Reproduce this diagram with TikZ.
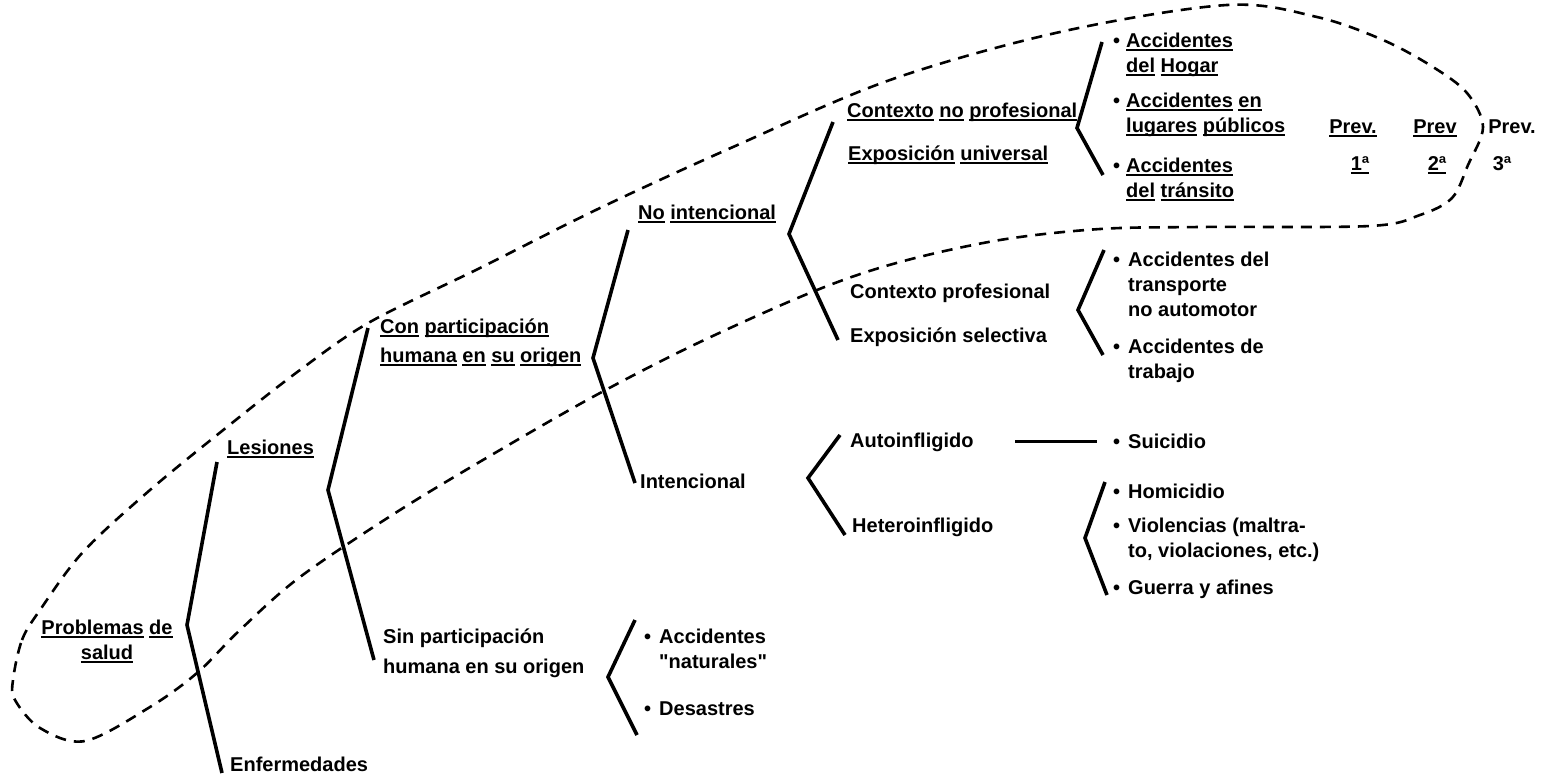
\documentclass[tikz,border=0pt]{standalone}
\usepackage{fontspec}
\setmainfont{Liberation Sans}
\newsavebox\ulbox
\newcommand\myul[1]{\sbox\ulbox{#1}\rlap{\rule[-3.5pt]{\wd\ulbox}{1.8pt}}\usebox\ulbox}
\tikzset{
  txt/.style={font=\fontsize{20}{25}\selectfont\bfseries, inner sep=0pt, anchor=west, align=left},
  one/.style={txt, text height=14pt, text depth=4pt},
  brace/.style={line width=3.6pt, line join=miter},
  loop/.style={line width=2.6pt, dash pattern=on 11pt off 8pt}
}
\begin{document}
\begin{tikzpicture}[x=1pt,y=-1pt]
\useasboundingbox (0,0) rectangle (1547,782);

% ---------- text nodes ----------
\node[txt, align=center, anchor=center] (prob) at (107,641) {\myul{Problemas} \myul{de}\\\myul{salud}};
\node[one] (les) at (227,449) {\myul{Lesiones}};
\node[one] (enf) at (230,766) {Enfermedades};
\node[txt] (con) at (380,343) {\myul{Con} \myul{participación}\\[4pt]\myul{humana} \myul{en} \myul{su} \myul{origen}};
\node[txt] (sin) at (383,653) {Sin participación\\[5pt]humana en su origen};
\node[one] (noint) at (638,214) {\myul{No} \myul{intencional}};
\node[one] (intenc) at (640,483) {Intencional};
\node[one] (cnp) at (847,112) {\myul{Contexto} \myul{no} \myul{profesional}};
\node[one] (eu) at (848,155) {\myul{Exposición} \myul{universal}};
\node[one] (cp) at (850,293) {Contexto profesional};
\node[one] (es) at (850,337) {Exposición selectiva};
\node[one] (auto) at (850,442) {Autoinfligido};
\node[one] (hetero) at (852,527) {Heteroinfligido};

% bullet lists
\node[txt] (hogar) at (1113,55) {\begin{tabular}{@{}l@{\hspace{6pt}}l@{}}•&\myul{Accidentes}\\&\myul{del} \myul{Hogar}\end{tabular}};
\node[txt] (lugares) at (1113,115) {\begin{tabular}{@{}l@{\hspace{6pt}}l@{}}•&\myul{Accidentes} \myul{en}\\&\myul{lugares} \myul{públicos}\end{tabular}};
\node[txt] (transito) at (1113,180) {\begin{tabular}{@{}l@{\hspace{6pt}}l@{}}•&\myul{Accidentes}\\&\myul{del} \myul{tránsito}\end{tabular}};
\node[txt] (transp) at (1113,286) {\begin{tabular}{@{}l@{\hspace{8pt}}l@{}}•&Accidentes del\\&transporte\\&no automotor\end{tabular}};
\node[txt] (trabajo) at (1113,361) {\begin{tabular}{@{}l@{\hspace{8pt}}l@{}}•&Accidentes de\\&trabajo\end{tabular}};
\node[one] (suic) at (1113,443) {•\hspace{8pt}Suicidio};
\node[one] (homic) at (1113,493) {•\hspace{8pt}Homicidio};
\node[txt] (viol) at (1113,540) {\begin{tabular}{@{}l@{\hspace{8pt}}l@{}}•&Violencias (maltra-\\&to, violaciones, etc.)\end{tabular}};
\node[one] (guerra) at (1113,589) {•\hspace{8pt}Guerra y afines};
\node[txt] (natur) at (644,651) {\begin{tabular}{@{}l@{\hspace{8pt}}l@{}}•&Accidentes\\&\textquotedbl naturales\textquotedbl\end{tabular}};
\node[one] (desas) at (644,710) {•\hspace{8pt}Desastres};

% prevention labels
\node[one, anchor=center] (p1) at (1353,128) {\myul{Prev.}};
\node[one, anchor=center] (n1) at (1360,165) {\myul{1ª}};
\node[one, anchor=center] (p2) at (1435,128) {\myul{Prev}};
\node[one, anchor=center] (n2) at (1437,165) {\myul{2ª}};
\node[one, anchor=center] (p3) at (1512,128) {Prev.};
\node[one, anchor=center] (n3) at (1502,165) {3ª};

% ---------- bracket coordinates ----------
\coordinate (b1t) at (217,462); \coordinate (b1a) at (187,625); \coordinate (b1b) at (222,773);
\coordinate (b2t) at (368,328); \coordinate (b2a) at (328,490); \coordinate (b2b) at (374,660);
\coordinate (b3t) at (628,230); \coordinate (b3a) at (593,358); \coordinate (b3b) at (635,483);
\coordinate (b4t) at (833,122); \coordinate (b4a) at (789,234); \coordinate (b4b) at (838,340);
\coordinate (b5t) at (1102,42); \coordinate (b5a) at (1077,128); \coordinate (b5b) at (1103,175);
\coordinate (b6t) at (1104,250); \coordinate (b6a) at (1078,310); \coordinate (b6b) at (1103,355);
\coordinate (b7t) at (840,435); \coordinate (b7a) at (808,478); \coordinate (b7b) at (845,535);
\coordinate (b8t) at (1105,482); \coordinate (b8a) at (1085,538); \coordinate (b8b) at (1107,595);
\coordinate (b9t) at (635,620); \coordinate (b9a) at (608,677); \coordinate (b9b) at (637,735);
\coordinate (s1) at (1015,441); \coordinate (s2) at (1097,441);

\draw[brace] (b1t) -- (b1a) -- (b1b);
\draw[brace] (b2t) -- (b2a) -- (b2b);
\draw[brace] (b3t) -- (b3a) -- (b3b);
\draw[brace] (b4t) -- (b4a) -- (b4b);
\draw[brace] (b5t) -- (b5a) -- (b5b);
\draw[brace] (b6t) -- (b6a) -- (b6b);
\draw[brace] (b7t) -- (b7a) -- (b7b);
\draw[brace] (b8t) -- (b8a) -- (b8b);
\draw[brace] (b9t) -- (b9a) -- (b9b);
\draw[line width=3pt] (s1) -- (s2);

% ---------- dashed loop ----------
\draw[loop] plot[smooth cycle, tension=0.55] coordinates {
 (13,680) (22,640) (40,610) (83,552) (150,490) (227,427) (300,370) (370,322)
 (480,268) (600,208) (733,147) (890,80) (1060,32) (1227,5) (1317,17) (1383,40)
 (1433,67) (1467,93) (1483,127) (1468,165) (1452,198) (1420,215) (1370,226)
 (1200,227) (1100,229) (1000,240) (900,262) (817,290) (700,342) (600,393)
 (500,450) (400,510) (300,577) (240,630) (197,673) (150,707) (85,741) (40,728) (15,700)};
\end{tikzpicture}
\end{document}
